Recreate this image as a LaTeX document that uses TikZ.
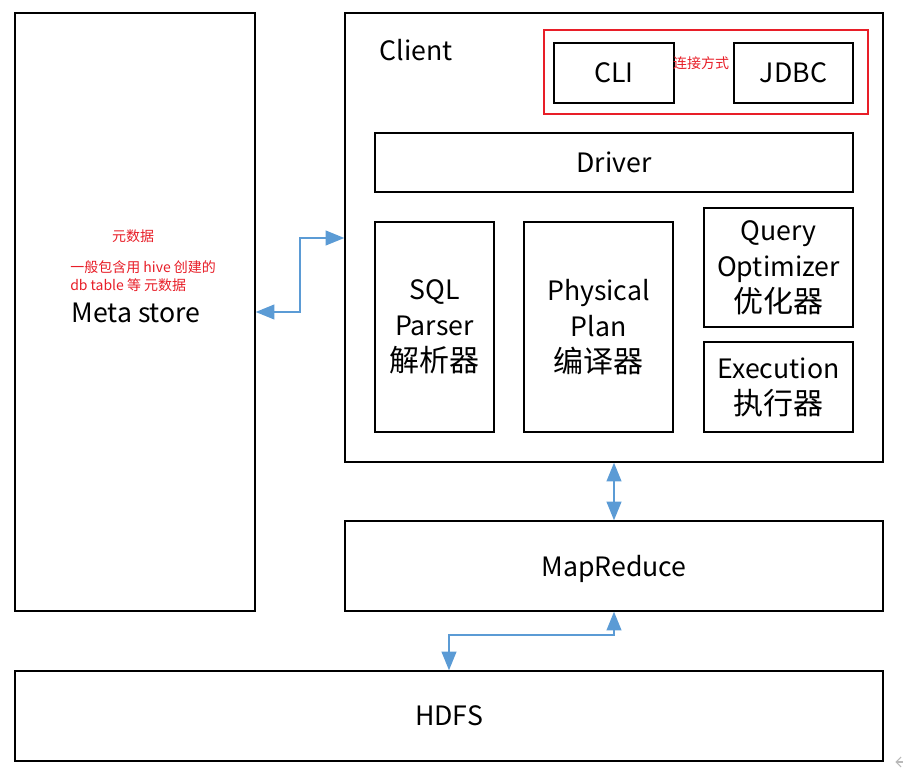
\documentclass[tikz,border=0pt]{standalone}
\usepackage{fontspec}
\setmainfont{Noto Sans CJK SC}
\usetikzlibrary{arrows.meta,calc}
\definecolor{arrblue}{RGB}{91,155,213}
\definecolor{redline}{RGB}{232,30,40}
\newcommand\zhbig[1]{{\fontsize{22.5}{27}\selectfont #1}}
\begin{document}
\begin{tikzpicture}[x=0.75pt,y=-0.75pt,
  box/.style={draw=black, line width=1pt, fill=white, inner sep=0pt, align=center,
    font=\fontsize{20}{27}\selectfont},
  lbl/.style={inner sep=0pt, font=\fontsize{20}{27}\selectfont},
  redtxt/.style={inner sep=0pt, text=redline, align=left, font=\fontsize{10.5}{13.5}\selectfont},
  redbox/.style={draw=redline, line width=1.2pt, inner sep=0pt},
  biarr/.style={draw=arrblue, line width=1.5pt,
    {Triangle[width=11pt,length=14pt]}-{Triangle[width=11pt,length=14pt]}}
]
\useasboundingbox (0,0) rectangle (903,770);

% main boxes
\node[box, minimum width=180pt, minimum height=448.5pt] (meta) at (135,312) {};
\node[box, minimum width=403.5pt, minimum height=336.75pt] (client) at (614,237.5) {};
\node[box, minimum width=403.5pt, minimum height=67.5pt] (mr) at (614,566) {\raisebox{0pt}[\height][0pt]{MapReduce}};
\node[box, minimum width=651pt, minimum height=67.5pt] (hdfs) at (449,716) {HDFS};

% meta store texts
\node[lbl] (metalbl) at (136,313) {Meta store};
\node[redtxt] (meta1) at (133,236) {元数据};
\node[redtxt, anchor=west] (meta2) at (70,276) {一般包含用 hive 创建的\\db table 等 元数据};

% client contents
\node[lbl] (clientlbl) at (416,50) {Client};
\node[redbox, minimum width=243pt, minimum height=63pt] (conn) at (706,72) {};
\node[box, minimum width=90pt, minimum height=45pt] (cli) at (614,73) {CLI};
\node[box, minimum width=89.25pt, minimum height=45pt] (jdbc) at (793.5,73) {JDBC};
\node[redtxt] (connlbl) at (701,63) {连接方式};
\node[box, minimum width=358.5pt, minimum height=44.25pt] (driver) at (614,162.5) {Driver};
\node[box, minimum width=89.25pt, minimum height=157.5pt] (sql) at (434.5,327) {SQL\\Parser\\\zhbig{解析器}};
\node[box, minimum width=111.75pt, minimum height=157.5pt] (phys) at (598.5,327) {Physical\\Plan\\\zhbig{编译器}};
\node[box, minimum width=111.75pt, minimum height=89.25pt] (query) at (778.5,267.5) {Query\\Optimizer\\\zhbig{优化器}};
\node[box, minimum width=111.75pt, minimum height=67.5pt] (exec) at (778.5,387) {Execution\\\zhbig{执行器}};

% connectors
\draw[biarr] (meta.east) -| (300,238) -- (client.west |- 0,238);
\draw[biarr] (client.south) -- (mr.north);
\draw[biarr] (mr.south) -- ++(0,23) -| (hdfs.north);

% small gray mark at bottom right
\draw[gray!55, line width=0.8pt] (901,757) -- (896,762) -- (901,767);
\draw[gray!55, line width=0.8pt] (896,762) -- (903,762);
\end{tikzpicture}
\end{document}
